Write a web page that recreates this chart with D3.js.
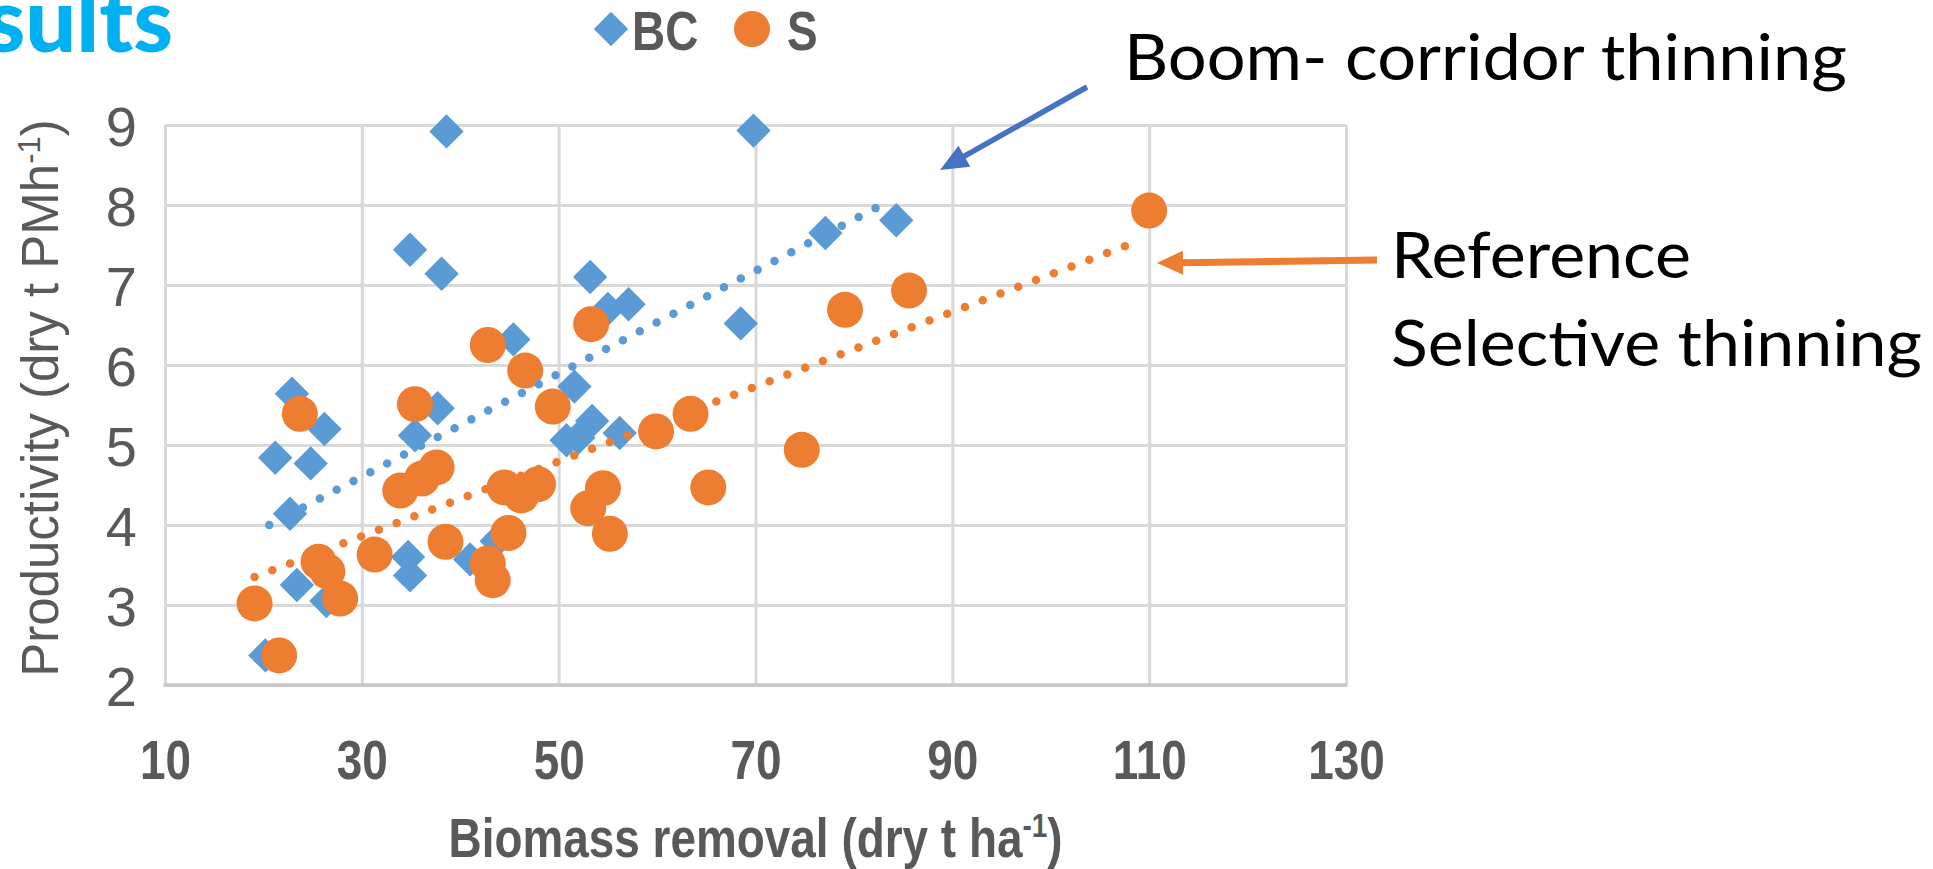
<!DOCTYPE html>
<html><head><meta charset="utf-8">
<script src="https://cdn.jsdelivr.net/npm/d3@7/dist/d3.min.js"></script>
<style>body{margin:0;background:#fff;} svg{display:block}</style>
</head><body>
<svg id="c" width="1933" height="869"></svg>
<script>
// ---------------- data ----------------
const xTicks = [10, 30, 50, 70, 90, 110, 130];
const yTicks = [2, 3, 4, 5, 6, 7, 8, 9];
const seriesNames = ["BC", "S"];

// BC: boom-corridor thinning (blue diamonds)
const bcX = [20.2, 21.2, 22.7, 22.9, 23.4, 24.8, 26.2, 26.4, 34.7, 34.9, 34.9, 35.4, 37.7, 38.1, 38.6,
             41.0, 43.7, 45.4, 50.8, 52.0, 51.6, 53.2, 53.4, 55.0, 56.2, 57.1, 68.5, 69.8, 77.1, 84.3];
const bcY = [2.37, 4.84, 4.14, 5.64, 3.25, 4.77, 5.20, 3.05, 3.60, 3.37, 7.44, 5.12, 5.46, 7.14, 8.92,
             3.57, 3.80, 6.32, 5.06, 5.09, 5.73, 7.10, 5.30, 6.70, 5.15, 6.76, 6.52, 8.93, 7.65, 7.81];

// S: reference selective thinning (orange circles)
const sX = [19.1, 21.6, 23.7, 25.6, 26.5, 27.8, 31.3, 33.9, 35.4, 36.1, 37.6, 38.5, 42.8, 42.8, 43.3, 44.5,
            44.9, 46.2, 46.6, 47.9, 49.4, 53.0, 53.3, 54.5, 55.2, 59.9, 63.4, 65.2, 74.7, 79.1, 85.6, 110.0];
const sY = [3.02, 2.37, 5.39, 3.54, 3.42, 3.08, 3.63, 4.43, 5.51, 4.58, 4.72, 3.79, 6.25, 3.52, 3.31, 4.47,
            3.90, 4.37, 5.93, 4.51, 5.48, 4.21, 6.51, 4.46, 3.89, 5.17, 5.39, 4.47, 4.94, 6.69, 6.93, 7.93];

// linear trend lines (end points)
const bcTrendX = [20.6, 82.8];
const bcTrendY = [4.00, 8.00];
const sTrendX = [19.1, 108.5];
const sTrendY = [3.35, 7.53];

// ---------------- drawing ----------------
const BLUE = "#5B9BD5", ORANGE = "#ED7D31", GRID = "#D9D9D9", AXIS_TXT = "#595959";
const SANS = "'Liberation Sans',Arial,sans-serif";
const NARROW_K = 0.82; // Arial Narrow look: Liberation Sans squeezed horizontally
const svg = d3.select("#c");
svg.append("rect").attr("width", 1933).attr("height", 869).attr("fill", "#fff");

const x = d3.scaleLinear().domain([xTicks[0], xTicks[xTicks.length - 1]]).range([165, 1346]);
const y = d3.scaleLinear().domain([yTicks[0], yTicks[yTicks.length - 1]]).range([685, 125]);

// gridlines
const grid = svg.append("g");
grid.append("g").attr("transform", `translate(0,${y(yTicks[0])})`)
  .call(d3.axisBottom(x).tickValues(xTicks).tickSize(-(y(yTicks[0]) - y(yTicks[yTicks.length-1]))).tickFormat(""))
  .call(g => g.select(".domain").remove())
  .call(g => g.selectAll("line").attr("stroke", GRID).attr("stroke-width", 3));
grid.append("g").attr("transform", `translate(${x(xTicks[0])},0)`)
  .call(d3.axisLeft(y).tickValues(yTicks).tickSize(-(x(xTicks[xTicks.length-1]) - x(xTicks[0]))).tickFormat(""))
  .call(g => g.select(".domain").remove())
  .call(g => g.selectAll("line").attr("stroke", GRID).attr("stroke-width", 3));
// bottom axis line
svg.append("line").attr("x1", x(xTicks[0]) - 1.5).attr("x2", x(xTicks[xTicks.length-1]) + 1.5)
  .attr("y1", y(yTicks[0])).attr("y2", y(yTicks[0])).attr("stroke", "#C8C8C8").attr("stroke-width", 3.5);

// tick labels
const xAx = svg.append("g").attr("transform", `translate(0,${y(yTicks[0])})`)
  .call(d3.axisBottom(x).tickValues(xTicks).tickSize(0).tickPadding(94).tickFormat(d3.format("d")));
xAx.select(".domain").remove();
xAx.selectAll("text").attr("font-family", SANS).attr("font-size", 56).attr("font-weight", "bold")
  .attr("fill", AXIS_TXT).attr("dy", 0).attr("transform", `scale(${NARROW_K},1)`);

const yAx = svg.append("g").attr("transform", `translate(${x(xTicks[0])},0)`)
  .call(d3.axisLeft(y).tickValues(yTicks).tickSize(0).tickPadding(28).tickFormat(d3.format("d")));
yAx.select(".domain").remove();
yAx.selectAll("text").attr("font-family", SANS).attr("font-size", 56)
  .attr("fill", AXIS_TXT).attr("dy", "0.36em");

// axis titles
const xtg = svg.append("g")
  .attr("transform", `translate(${(x.range()[0] + x.range()[1]) / 2},857) scale(${NARROW_K},1)`);
const xt = xtg.append("text").attr("x", 0).attr("y", 0)
  .attr("text-anchor", "middle").attr("font-family", SANS).attr("font-size", 56).attr("font-weight", "bold")
  .attr("fill", AXIS_TXT);
xt.append("tspan").text("Biomass removal (dry t ha");
xt.append("tspan").attr("font-size", 34).attr("dy", -20).text("-1");
xt.append("tspan").attr("dy", 20).text(")");

const yt = svg.append("text").attr("transform", "translate(58,398) rotate(-90)")
  .attr("text-anchor", "middle").attr("font-family", SANS).attr("font-size", 51)
  .attr("fill", AXIS_TXT);
yt.append("tspan").text("Productivity (dry t PMh");
yt.append("tspan").attr("font-size", 31).attr("dy", -18).text("-1");
yt.append("tspan").attr("dy", 18).text(")");

// markers
const bc = bcX.map((v, i) => ({x: v, y: bcY[i]}));
const s = sX.map((v, i) => ({x: v, y: sY[i]}));
const diamond = d3.symbol(d3.symbolSquare, 24.3 * 24.3);
svg.append("g").selectAll("path").data(bc).join("path")
  .attr("d", diamond)
  .attr("transform", d => `translate(${x(d.x)},${y(d.y)}) rotate(45)`)
  .attr("fill", BLUE);
svg.append("g").selectAll("circle").data(s).join("circle")
  .attr("cx", d => x(d.x)).attr("cy", d => y(d.y)).attr("r", 18)
  .attr("fill", ORANGE);

// trend lines
const line = d3.line().x(d => x(d[0])).y(d => y(d[1]));
svg.append("path").attr("d", line(bcTrendX.map((v, i) => [v, bcTrendY[i]])))
  .attr("fill", "none").attr("stroke", BLUE).attr("stroke-width", 8.5)
  .attr("stroke-linecap", "round").attr("stroke-dasharray", "0 19");
svg.append("path").attr("d", line(sTrendX.map((v, i) => [v, sTrendY[i]])))
  .attr("fill", "none").attr("stroke", ORANGE).attr("stroke-width", 8.5)
  .attr("stroke-linecap", "round").attr("stroke-dasharray", "0 19");

// legend
const lg = svg.append("g");
lg.append("path").attr("d", diamond).attr("transform", "translate(611,29) rotate(45)").attr("fill", BLUE);
lg.append("g").attr("transform", `translate(632,50) scale(${NARROW_K},1)`)
  .append("text").attr("x", 0).attr("y", 0).text(seriesNames[0])
  .attr("font-family", SANS).attr("font-size", 56).attr("font-weight", "bold").attr("fill", AXIS_TXT);
lg.append("circle").attr("cx", 752).attr("cy", 29).attr("r", 18).attr("fill", ORANGE);
lg.append("g").attr("transform", `translate(787,50) scale(${NARROW_K},1)`)
  .append("text").attr("x", 0).attr("y", 0).text(seriesNames[1])
  .attr("font-family", SANS).attr("font-size", 56).attr("font-weight", "bold").attr("fill", AXIS_TXT);

// slide title fragment
svg.append("text").attr("x", 173).attr("y", 52).attr("text-anchor", "end").text("Results")
  .attr("font-family", "Lato,'Open Sans',sans-serif").attr("font-weight", 900).attr("font-size", 90)
  .attr("fill", "#00B0F0");

// annotations
const ANN = "Lato,'Open Sans',sans-serif";
function ann(t, xx, yy, w) {
  svg.append("text").attr("x", xx).attr("y", yy).text(t).attr("font-family", ANN).attr("font-size", 63)
    .attr("fill", "#000").attr("textLength", w).attr("lengthAdjust", "spacingAndGlyphs");
}
ann("Boom- corridor thinning", 1124, 80, 723);
ann("Reference", 1391, 278, 300);
ann("Selective thinning", 1391, 366, 531);

function arrow(x1, y1, x2, y2, color, w, hl, hw) {
  const dx = x2 - x1, dy = y2 - y1, L = Math.hypot(dx, dy), ux = dx / L, uy = dy / L;
  const bx = x2 - ux * hl, by = y2 - uy * hl;
  svg.append("line").attr("x1", x1).attr("y1", y1).attr("x2", bx + ux * 2).attr("y2", by + uy * 2)
    .attr("stroke", color).attr("stroke-width", w);
  svg.append("path").attr("d", `M${x2},${y2}L${bx - uy * hw / 2},${by + ux * hw / 2}L${bx + uy * hw / 2},${by - ux * hw / 2}Z`)
    .attr("fill", color);
}
arrow(1087, 87, 940, 170, "#4472C4", 5.5, 28, 24);
arrow(1377, 260, 1157, 263, ORANGE, 7, 26, 24);
</script>
</body></html>
